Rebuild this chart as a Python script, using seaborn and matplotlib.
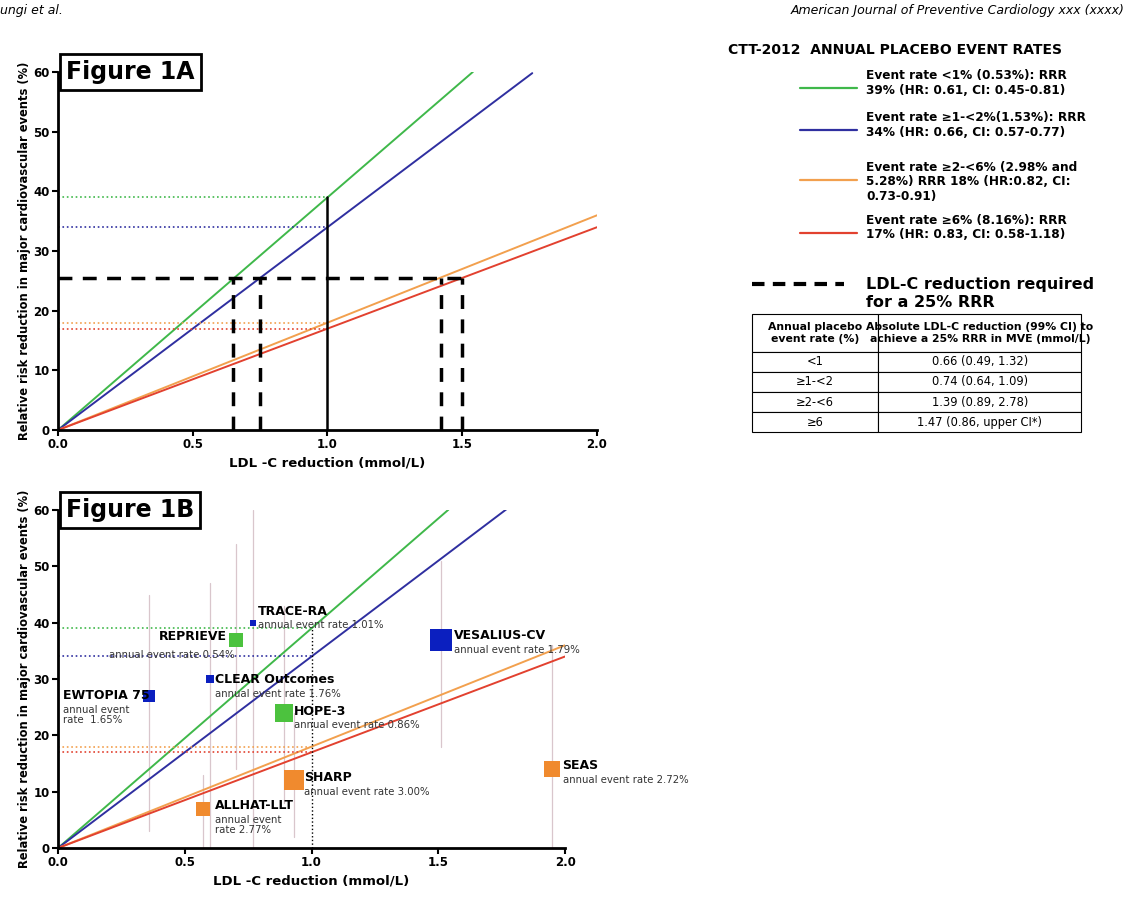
import numpy as np
import pandas as pd
import matplotlib.pyplot as plt
import seaborn as sns

sns.set_style("ticks")
plt.rcParams['font.family'] = ['DejaVu Sans']
plt.rcParams['text.color'] = 'black'
plt.rcParams['axes.labelcolor'] = 'black'
plt.rcParams['xtick.color'] = 'black'
plt.rcParams['ytick.color'] = 'black'

# CTT-2012 regression lines: RRR (%) per mmol/L LDL-C reduction
groups = ["Event rate <1%", "Event rate ≥1-<2%", "Event rate ≥2-<6%", "Event rate ≥6%"]
slopes = [39, 34, 18, 17]
line_colors = ["#3fb84a", "#2f2fa0", "#f2a04e", "#e2412f"]
x_end_a = [1.54, 1.76, 2.0, 2.0]
x_end_b = [1.54, 1.77, 2.0, 2.0]

# LDL-C reduction required for 25% RRR
rrr_target = 25.5
required_ldl = [0.65, 0.75, 1.42, 1.5]

# trials in figure 1B
trials = ["EWTOPIA 75", "CLEAR Outcomes", "REPRIEVE", "TRACE-RA", "HOPE-3",
          "SHARP", "ALLHAT-LLT", "VESALIUS-CV", "SEAS"]
trial_ldl = [0.36, 0.60, 0.70, 0.77, 0.89, 0.93, 0.57, 1.51, 1.95]
trial_rrr = [27, 30, 37, 40, 24, 12, 7, 37, 14]
trial_lo = [3, 0, 14, 0, 8, 2, 0, 18, 0]
trial_hi = [45, 47, 54, 60, 43, 24, 13, 51, 36]
trial_group = ["blue", "blue", "green", "blue", "green", "orange", "orange", "blue", "orange"]
trial_size = [70, 40, 90, 25, 150, 190, 110, 230, 140]
trial_rate = ["annual event\nrate  1.65%", "annual event rate 1.76%", "annual event rate 0.54%",
              "annual event rate 1.01%", "annual event rate 0.86%", "annual event rate 3.00%",
              "annual event\nrate 2.77%", "annual event rate 1.79%", "annual event rate 2.72%"]

marker_pal = {"blue": "#0b1fbf", "green": "#4cc23e", "orange": "#f08a2e"}

fig = plt.figure(figsize=(11.25, 8.99), dpi=100)
axA = fig.add_axes([0.0516, 0.5217, 0.479, 0.398])
axB = fig.add_axes([0.0516, 0.0567, 0.4507, 0.376])


def draw_lines(ax, x_end):
    for g, s, c, xe in zip(groups, slopes, line_colors, x_end):
        d = pd.DataFrame({"x": [0, xe], "y": [0, s * xe]})
        sns.lineplot(data=d, x="x", y="y", color=c, lw=1.4, ax=ax)
        ax.plot([0, 1.0], [s, s], ls=":", color=c, lw=1.2)


def style(ax, title):
    ax.set_xlim(0, 2.0)
    ax.set_ylim(0, 60)
    ax.set_xticks([0, 0.5, 1.0, 1.5, 2.0])
    ax.set_xticklabels(["0.0", "0.5", "1.0", "1.5", "2.0"], fontweight="bold", fontsize=8.5)
    ax.set_yticks(range(0, 61, 10))
    ax.set_yticklabels([str(v) for v in range(0, 61, 10)], fontweight="bold", fontsize=8.5)
    ax.tick_params(direction="out", length=4, width=1.5, pad=2)
    for sp in ["left", "bottom"]:
        ax.spines[sp].set_linewidth(2)
        ax.spines[sp].set_color("black")
    sns.despine(ax=ax)
    ax.set_xlabel("LDL -C reduction (mmol/L)", fontweight="bold", fontsize=9.5)
    ax.set_ylabel("Relative risk reduction in major cardiovascular events (%)",
                  fontweight="bold", fontsize=8.3, labelpad=2)
    ax.text(0.015, 1.0, title, transform=ax.transAxes, fontsize=17, fontweight="bold",
            va="center", ha="left",
            bbox=dict(boxstyle="square,pad=0.25", fc="white", ec="black", lw=2))


# Figure 1A
draw_lines(axA, x_end_a)
axA.plot([1.0, 1.0], [0, 39], color="black", lw=1.8)
axA.plot([0, max(required_ldl)], [rrr_target, rrr_target], ls="--", color="black", lw=2.5,
         dashes=(4, 3))
for r in required_ldl:
    axA.plot([r, r], [0, rrr_target], ls="--", color="black", lw=2.5, dashes=(4, 3))
style(axA, "Figure 1A")

# Figure 1B
draw_lines(axB, x_end_b)
axB.plot([1.0, 1.0], [0, 39], ls=":", color="black", lw=1.0)
for x, lo, hi in zip(trial_ldl, trial_lo, trial_hi):
    axB.plot([x, x], [lo, hi], color="#d9c6cc", lw=0.9, zorder=1)
df = pd.DataFrame({"x": trial_ldl, "y": trial_rrr, "g": trial_group, "s": trial_size})
for _, r in df.iterrows():
    axB.scatter(r.x, r.y, s=r.s, marker="s", color=marker_pal[r.g], zorder=4, lw=0)

lab_pos = {
    "EWTOPIA 75": (0.02, 27, "left"), "CLEAR Outcomes": (0.62, 30, "left"),
    "REPRIEVE": (0.665, 37.5, "right"), "TRACE-RA": (0.79, 42, "left"),
    "HOPE-3": (0.93, 24.3, "left"), "SHARP": (0.97, 12.5, "left"),
    "ALLHAT-LLT": (0.62, 7.5, "left"), "VESALIUS-CV": (1.56, 37.7, "left"),
    "SEAS": (1.99, 14.6, "left"),
}
rate_pos = {
    "EWTOPIA 75": (0.02, 25.3), "CLEAR Outcomes": (0.62, 28.3), "REPRIEVE": (0.2, 35.2),
    "TRACE-RA": (0.79, 40.4), "HOPE-3": (0.93, 22.7), "SHARP": (0.97, 10.8),
    "ALLHAT-LLT": (0.62, 5.8), "VESALIUS-CV": (1.56, 36), "SEAS": (1.99, 12.9),
}
for t, rate in zip(trials, trial_rate):
    lx, ly, ha = lab_pos[t]
    axB.text(lx, ly, t, fontweight="bold", fontsize=9, ha=ha, va="center", zorder=5)
    rx, ry = rate_pos[t]
    axB.text(rx, ry, rate, fontsize=7.3, ha="left", va="top", zorder=5, linespacing=1.0,
             color="#333333")
style(axB, "Figure 1B")

# legend text on the right
fig.text(0.647, 0.94, "CTT-2012  ANNUAL PLACEBO EVENT RATES", fontsize=10, fontweight="bold")
legend_text = ["Event rate <1% (0.53%): RRR\n39% (HR: 0.61, CI: 0.45-0.81)",
               "Event rate ≥1-<2%(1.53%): RRR\n34% (HR: 0.66, CI: 0.57-0.77)",
               "Event rate ≥2-<6% (2.98% and\n5.28%) RRR 18% (HR:0.82, CI:\n0.73-0.91)",
               "Event rate ≥6% (8.16%): RRR\n17% (HR: 0.83, CI: 0.58-1.18)"]
leg_y = [0.902, 0.855, 0.800, 0.741]
for txt, c, y in zip(legend_text, line_colors, leg_y):
    fig.add_artist(plt.Line2D([0.711, 0.762], [y, y], color=c, lw=1.6))
    fig.text(0.77, y + 0.021, txt, fontsize=8.7, fontweight="bold", va="top", linespacing=1.15)

fig.add_artist(plt.Line2D([0.668, 0.75], [0.684, 0.684], color="black", lw=3, ls="--",
                          dashes=(3, 2)))
fig.text(0.77, 0.684, "LDL-C reduction required", fontsize=11.5, fontweight="bold", va="center")
fig.text(0.77, 0.663, "for a 25% RRR", fontsize=11.5, fontweight="bold", va="center")

# table
tab_rows = [["Annual placebo\nevent rate (%)",
             "Absolute LDL-C reduction (99% CI) to\nachieve a 25% RRR in MVE (mmol/L)"],
            ["<1", "0.66 (0.49, 1.32)"],
            ["≥1-<2", "0.74 (0.64, 1.09)"],
            ["≥2-<6", "1.39 (0.89, 2.78)"],
            ["≥6", "1.47 (0.86, upper CI*)"]]
axT = fig.add_axes([0.668, 0.519, 0.293, 0.132])
axT.axis("off")
tbl = axT.table(cellText=tab_rows, colWidths=[0.385, 0.615], loc="upper left",
                bbox=[0, 0, 1, 1], cellLoc="center")
tbl.auto_set_font_size(False)
for (r, c), cell in tbl.get_celld().items():
    cell.set_linewidth(0.8)
    cell.get_text().set_fontsize(8.3)
    if r == 0:
        cell.get_text().set_fontweight("bold")
        cell.get_text().set_fontsize(7.8)
        cell._loc = "left"
        cell.PAD = 0.03
for r in range(5):
    h = 0.32 if r == 0 else 0.17
    for c in range(2):
        tbl[r, c].set_height(h)

# page header
fig.text(0.0, 0.995, "ungi et al.", fontsize=9, style="italic", va="top")
fig.text(1.0, 0.995, "American Journal of Preventive Cardiology xxx (xxxx)", fontsize=9,
         style="italic", va="top", ha="right")

fig.savefig("out.png", dpi=100)
